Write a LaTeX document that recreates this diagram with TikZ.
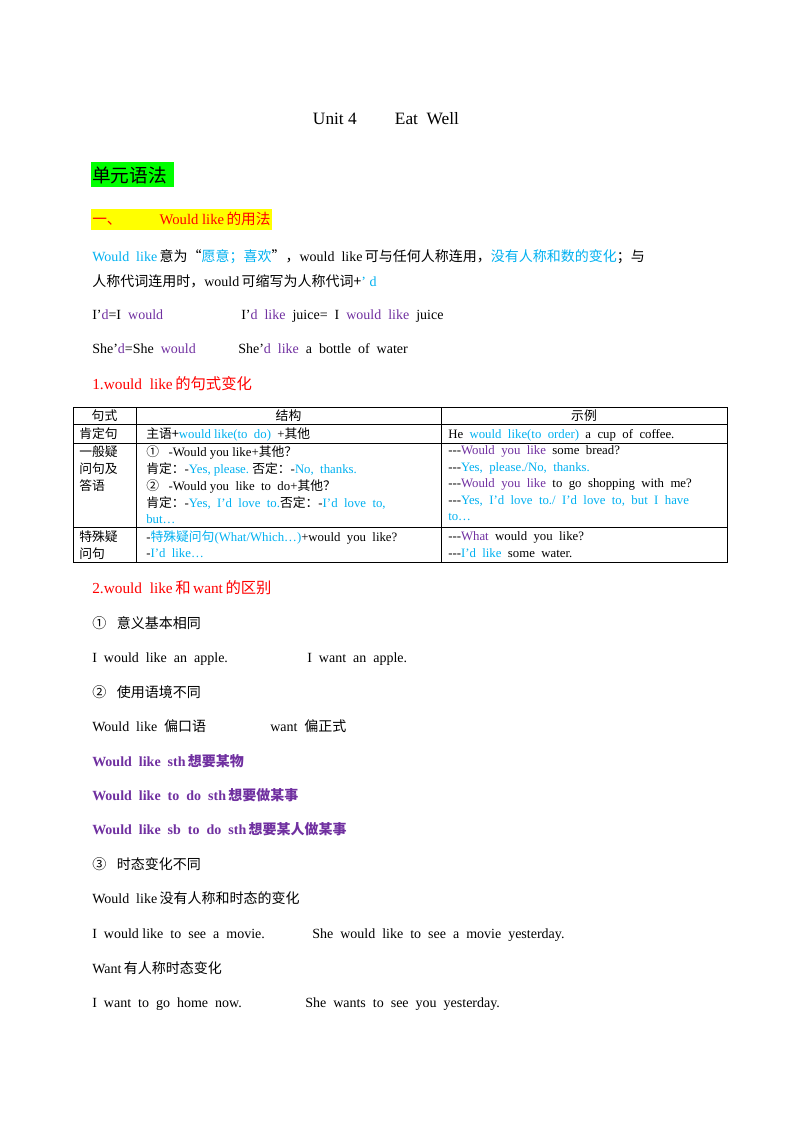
\documentclass[tikz,border=0pt]{standalone}
\usepackage{fontspec}
\setmainfont{Liberation Serif}
\newfontfamily\cjk{Noto Sans CJK SC}
\newcommand\zh[1]{{\cjk #1}}
\newcommand\ddd{-{}-{}-}
\definecolor{sky}{RGB}{0,176,240}
\definecolor{plum}{RGB}{112,48,160}
\definecolor{hlgreen}{RGB}{0,255,0}
\definecolor{hlyellow}{RGB}{255,255,0}
\newcommand\sk[1]{\textcolor{sky}{#1}}
\newcommand\pl[1]{\textcolor{plum}{#1}}

\begin{document}
\begin{tikzpicture}[
  x=0.75pt, y=-0.75pt,
  line/.style={anchor=base west, inner sep=0pt, font=\fontsize{10.5}{12}\selectfont},
  cell/.style={anchor=base west, inner sep=0pt, font=\fontsize{9.6}{11}\selectfont},
  head/.style={anchor=base, inner sep=0pt, font=\fontsize{9.6}{11}\selectfont},
  rule/.style={line width=0.6pt}
]
\useasboundingbox (0,0) rectangle (800,1132);

% Title and headings
\node[anchor=base, inner sep=0pt, font=\fontsize{13}{15}\selectfont] (title) at (386,124) {Unit 4\hspace{2.2em}Eat\ \ Well};
\fill[hlgreen] (91,162) rectangle (174,187);
\node[anchor=base west, inner sep=0pt, font=\fontsize{14}{16}\selectfont] (grammar) at (92,182) {\zh{单元语法}};
\fill[hlyellow] (91,209) rectangle (272,230);
\node[line, text=red, font=\fontsize{11}{13}\selectfont] (partone) at (92,224) {\zh{一、}\hspace{2.6em}Would like\,\zh{的用法}};

% Introduction
\node[line] (intro1) at (92,261) {\sk{Would\ \ like}\,\zh{意为“}\sk{\zh{愿意；喜欢}}\zh{”，}would\ \ like\,\zh{可与任何人称连用，}\sk{\zh{没有人称和数的变化}}\zh{；与}};
\node[line] (intro2) at (92,286) {\zh{人称代词连用时，}would\,\zh{可缩写为人称代词+}\sk{’\ d}};
\node[line] (ex1a) at (92,319) {I’\pl{d}=I\ \ \pl{would}};
\node[line] (ex1b) at (241,319) {I’\pl{d\ \ like}\ \ juice=\ \ I\ \ \pl{would\ \ like}\ \ juice};
\node[line] (ex2a) at (92,353) {She’\pl{d}=She\ \ \pl{would}};
\node[line] (ex2b) at (238,353) {She’\pl{d\ \ like}\ \ a\ \ bottle\ \ of\ \ water};
\node[line, text=red, font=\fontsize{11.5}{13}\selectfont] (part1) at (92,389) {1.would\ \ like\,\zh{的句式变化}};

% Table
\draw[rule] (73,407) rectangle (727,562);
\draw[rule] (73,424) -- (727,424) (73,443) -- (727,443) (73,527) -- (727,527);
\draw[rule] (136,407) -- (136,562) (441,407) -- (441,562);
\node[head] (h1) at (104.5,420) {\zh{句式}};
\node[head] (h2) at (288.5,420) {\zh{结构}};
\node[head] (h3) at (584,420) {\zh{示例}};
\node[cell] (r1a) at (79,438) {\zh{肯定句}};
\node[cell] (r1b) at (146,438) {\zh{主语+}\sk{would\ like(to\ \ do)}\ \ +\zh{其他}};
\node[cell] (r1c) at (448,438) {He\ \ \sk{would\ \ like(to\ \ order)}\ \ a\ \ cup\ \ of\ \ coffee.};
\node[cell] (r2a) at (79,456) {\zh{一般疑}};
\node[cell] (r2a2) at (79,473) {\zh{问句及}};
\node[cell] (r2a3) at (79,490) {\zh{答语}};
\node[cell] (r2b) at (146,456) {\zh{①}\ \ \ -Would\ you\ like+\zh{其他？}};
\node[cell] (r2b2) at (146,473) {\zh{肯定：}-\sk{Yes,\ please.}\ \zh{否定：}-\sk{No,\ \ thanks.}};
\node[cell] (r2b3) at (146,490) {\zh{②}\ \ \ -Would\ you\ \ like\ \ to\ \ do+\zh{其他？}};
\node[cell] (r2b4) at (146,507) {\zh{肯定：}-\sk{Yes,\ \ I’d\ \ love\ \ to.}\zh{否定：}-\sk{I’d\ \ love\ \ to,}};
\node[cell] (r2b5) at (146,523) {\sk{but…}};
\node[cell] (r2c) at (448,454) {\ddd\pl{Would\ \ you\ \ like}\ \ some\ \ bread?};
\node[cell] (r2c2) at (448,471) {\ddd\sk{Yes,\ \ please./No,\ \ thanks.}};
\node[cell] (r2c3) at (448,487) {\ddd\pl{Would\ \ you\ \ like}\ \ to\ \ go\ \ shopping\ \ with\ \ me?};
\node[cell] (r2c4) at (448,504) {\ddd\sk{Yes,\ \ I’d\ \ love\ \ to./\ \ I’d\ \ love\ \ to,\ \ but\ \ I\ \ have}};
\node[cell] (r2c5) at (448,520) {\sk{to…}};
\node[cell] (r3a) at (79,541) {\zh{特殊疑}};
\node[cell] (r3a2) at (79,558) {\zh{问句}};
\node[cell] (r3b) at (146,541) {-\sk{\zh{特殊疑问句}(What/Which…)}+would\ \ you\ \ like?};
\node[cell] (r3b2) at (146,557) {-\sk{I’d\ \ like…}};
\node[cell] (r3c) at (448,540) {\ddd\pl{What}\ \ would\ \ you\ \ like?};
\node[cell] (r3c2) at (448,557) {\ddd\sk{I’d\ \ like}\ \ some\ \ water.};

% Part 2
\node[line, text=red, font=\fontsize{11.5}{13}\selectfont] (part2) at (92,593) {2.would\ \ like\,\zh{和}\,want\,\zh{的区别}};
\node[line] (p1) at (92,628) {\zh{①}\ \ \ \zh{意义基本相同}};
\node[line] (p1a) at (92,662) {I\ \ would\ \ like\ \ an\ \ apple.};
\node[line] (p1b) at (307,662) {I\ \ want\ \ an\ \ apple.};
\node[line] (p2) at (92,697) {\zh{②}\ \ \ \zh{使用语境不同}};
\node[line] (p2a) at (92,731) {Would\ \ like\ \ \zh{偏口语}};
\node[line] (p2b) at (270,731) {want\ \ \zh{偏正式}};
\node[line, text=plum, font=\fontsize{10.5}{12}\bfseries] (p2c) at (92,766) {Would\ \ like\ \ sth\,\zh{想要某物}};
\node[line, text=plum, font=\fontsize{10.5}{12}\bfseries] (p2d) at (92,800) {Would\ \ like\ \ to\ \ do\ \ sth\,\zh{想要做某事}};
\node[line, text=plum, font=\fontsize{10.5}{12}\bfseries] (p2e) at (92,834) {Would\ \ like\ \ sb\ \ to\ \ do\ \ sth\,\zh{想要某人做某事}};
\node[line] (p3) at (92,869) {\zh{③}\ \ \ \zh{时态变化不同}};
\node[line] (p3a) at (92,903) {Would\ \ like\,\zh{没有人称和时态的变化}};
\node[line] (p3b) at (92,938) {I\ \ would\ like\ \ to\ \ see\ \ a\ \ movie.};
\node[line] (p3c) at (312,938) {She\ \ would\ \ like\ \ to\ \ see\ \ a\ \ movie\ \ yesterday.};
\node[line] (p3d) at (92,973) {Want\,\zh{有人称时态变化}};
\node[line] (p3e) at (92,1007) {I\ \ want\ \ to\ \ go\ \ home\ \ now.};
\node[line] (p3f) at (305,1007) {She\ \ wants\ \ to\ \ see\ \ you\ \ yesterday.};
\end{tikzpicture}
\end{document}
